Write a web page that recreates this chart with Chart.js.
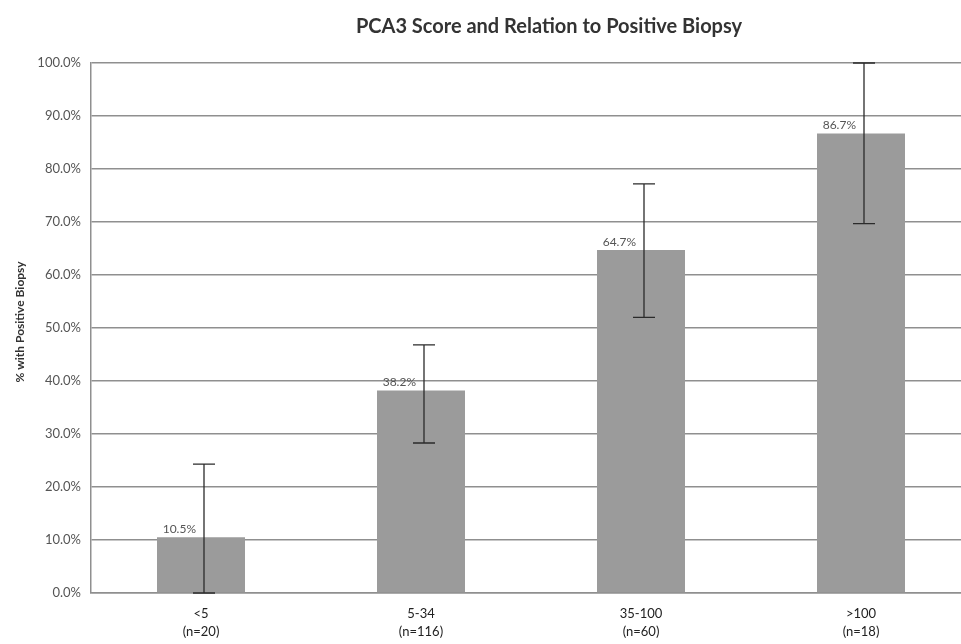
<!DOCTYPE html>
<html>
<head>
<meta charset="utf-8">
<script src="https://cdn.jsdelivr.net/npm/chart.js@4.4.1/dist/chart.umd.min.js"></script>
<style>
    html, body { margin: 0; padding: 0; background: #fff; overflow: hidden; }
    #wrap { width: 961px; height: 644px; overflow: hidden; }
</style>
</head>
<body>
<div id="wrap"><canvas id="chart" width="981" height="644"></canvas></div>
<script>
const categories = [['<5', '(n=20)'], ['5-34', '(n=116)'], ['35-100', '(n=60)'], ['>100', '(n=18)']];
const positivePct = [10.5, 38.2, 64.7, 86.7];
const errorLow = [0, 28.3, 52.0, 69.7];
const errorHigh = [24.3, 46.8, 77.2, 100];
const yTicks = [0, 10, 20, 30, 40, 50, 60, 70, 80, 90, 100];

const chartTitle = 'PCA3 Score and Relation to Positive Biopsy';
const yAxisTitle = '% with Positive Biopsy';

// error bars + value labels + titles, drawn after the bars
const extras = {
    id: 'extras',
    afterDatasetsDraw: (chart) => {
        const ctx = chart.ctx;
        const y = chart.scales.y;
        const meta = chart.getDatasetMeta(0);

        ctx.save();
        // error bars
        ctx.strokeStyle = '#2b2b2b';
        ctx.lineWidth = 1.3;
        positivePct.forEach((v, i) => {
            const cx = meta.data[i].x + 3;
            const top = y.getPixelForValue(errorHigh[i]);
            const bot = y.getPixelForValue(errorLow[i]);
            ctx.beginPath();
            ctx.moveTo(cx, top);
            ctx.lineTo(cx, bot);
            ctx.moveTo(cx - 11, top);
            ctx.lineTo(cx + 11, top);
            ctx.moveTo(cx - 11, bot);
            ctx.lineTo(cx + 11, bot);
            ctx.stroke();
        });

        // value labels
        ctx.fillStyle = '#555';
        ctx.font = '12px Lato';
        ctx.textAlign = 'right';
        ctx.textBaseline = 'bottom';
        positivePct.forEach((v, i) => {
            const bar = meta.data[i];
            ctx.fillText(v.toFixed(1) + '%', bar.x - 5, bar.y - 2);
        });

        // chart title
        ctx.fillStyle = '#333';
        ctx.font = 'bold 20px Lato';
        ctx.textAlign = 'center';
        ctx.textBaseline = 'middle';
        ctx.fillText(chartTitle, 549, 27);

        // y axis title
        ctx.translate(20, 322);
        ctx.rotate(-Math.PI / 2);
        ctx.font = 'bold 12px Lato';
        ctx.fillStyle = '#333';
        ctx.fillText(yAxisTitle, 0, 0);
        ctx.restore();
    }
};

const config = {
    type: 'bar',
    data: {
        labels: categories,
        datasets: [{
            data: positivePct,
            backgroundColor: '#9b9b9b',
            borderWidth: 0,
            barPercentage: 1,
            categoryPercentage: 0.4
        }]
    },
    options: {
        responsive: false,
        animation: false,
        layout: {
            padding: { left: 0, right: 10, top: 63, bottom: 0 }
        },
        scales: {
            x: {
                grid: { display: false, drawTicks: false },
                border: { color: '#8f8f8f', width: 1.5 },
                ticks: {
                    color: '#222',
                    font: { family: 'Lato', size: 13, lineHeight: 1.4 },
                    padding: 12,
                    maxRotation: 0
                },
                afterFit: (scale) => { scale.height = 51; }
            },
            y: {
                min: 0,
                max: 100,
                afterBuildTicks: (scale) => {
                    scale.ticks = yTicks.map(v => ({ value: v }));
                },
                grid: { color: '#8f8f8f', lineWidth: 1.5, drawTicks: false },
                border: { color: '#8f8f8f', width: 1.5 },
                ticks: {
                    color: '#555',
                    font: { family: 'Lato', size: 13 },
                    padding: 10,
                    callback: (v) => v.toFixed(1) + '%'
                },
                afterFit: (scale) => { scale.width = 91; }
            }
        },
        plugins: {
            legend: { display: false },
            title: { display: false },
            tooltip: { enabled: false }
        }
    },
    plugins: [extras]
};

new Chart(document.getElementById('chart'), config);
</script>
</body>
</html>
